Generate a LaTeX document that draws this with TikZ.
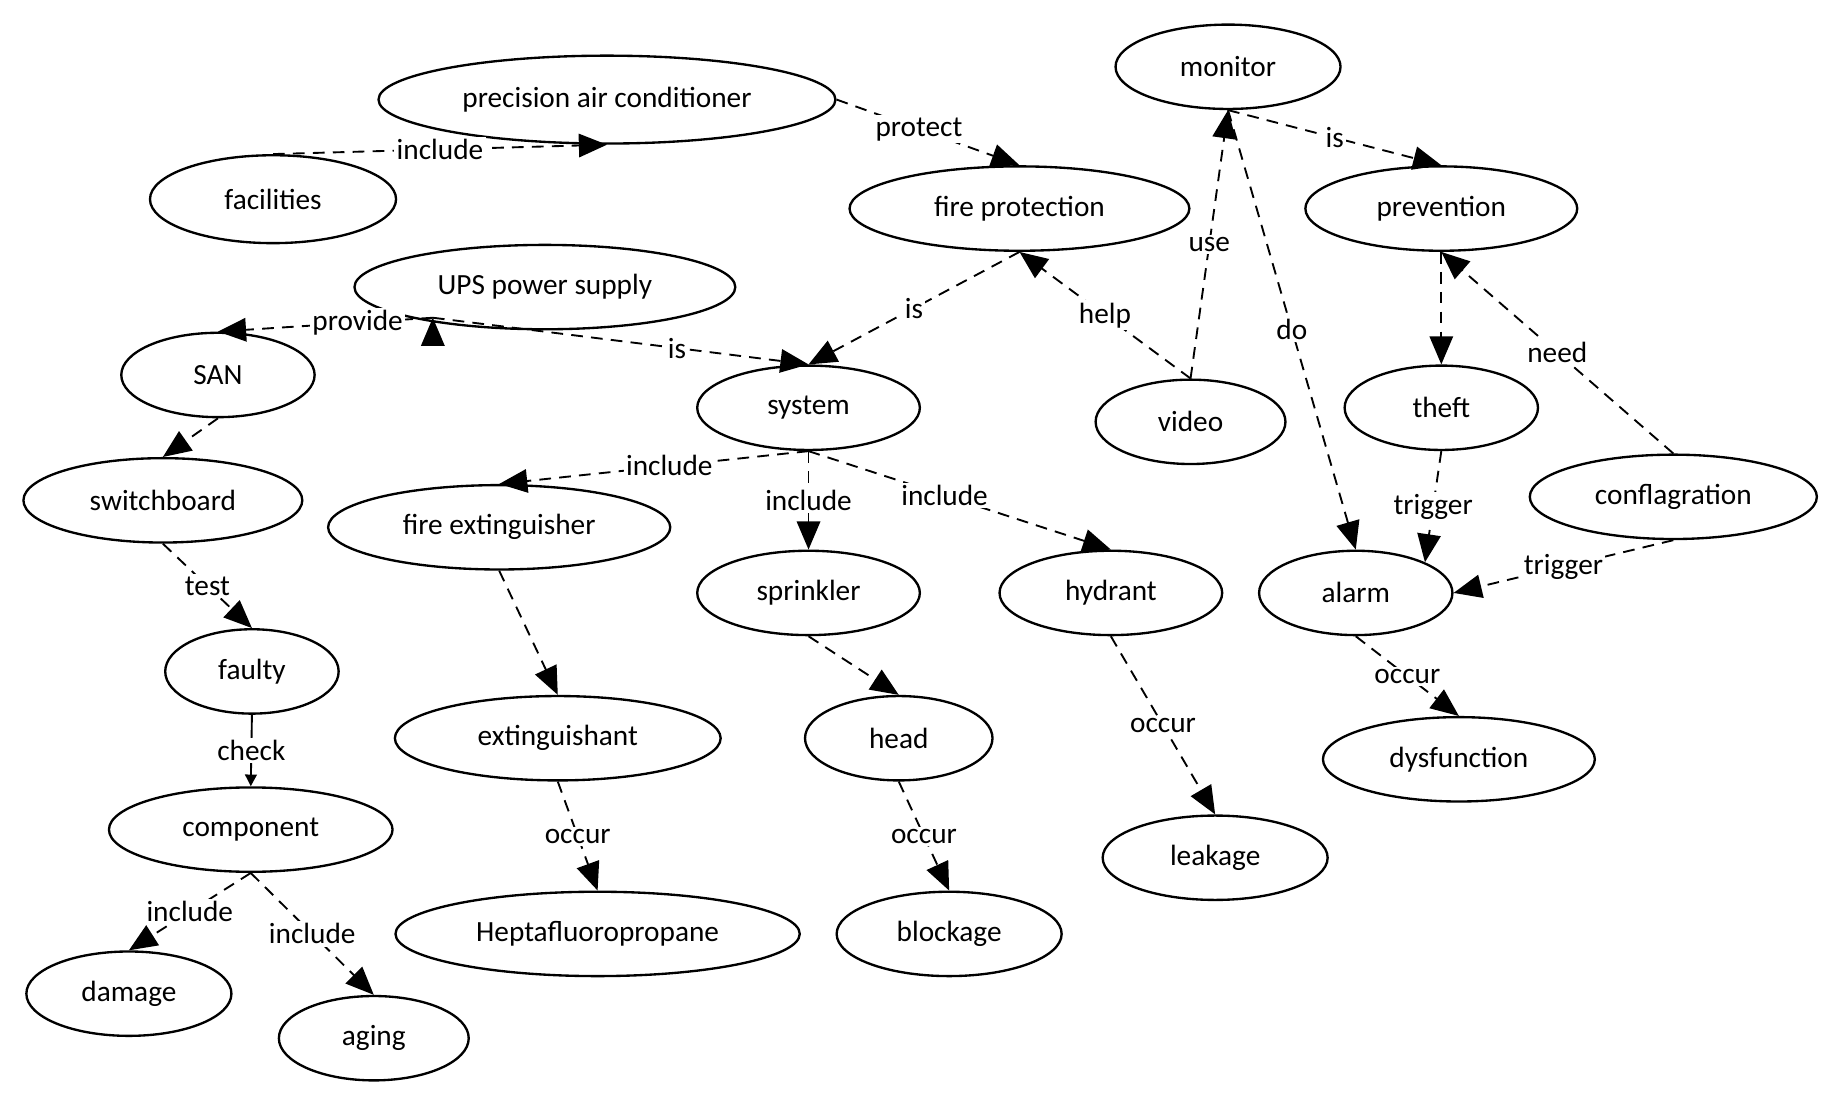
\documentclass[tikz,border=0pt]{standalone}
\usepackage{fontspec}
\setmainfont{Carlito}
\usetikzlibrary{shapes.geometric,arrows.meta}
\begin{document}
\begin{tikzpicture}[x=0.5pt,y=-0.5pt,
  n/.style={ellipse,draw,line width=1pt,inner sep=0pt,font=\fontsize{12.5}{14}\selectfont},
  e/.style={draw,line width=0.8pt,dash pattern=on 5pt off 3.5pt,-{Triangle[length=12pt,width=10pt]}},
  l/.style={fill=white,inner sep=1pt,font=\fontsize{12.5}{14}\selectfont}]
\useasboundingbox (0,0) rectangle (1560,940);
\def\N#1#2#3#4#5#6{\node[n,minimum width=#4*0.5pt,minimum height=#5*0.5pt] (#1) at (#2,#3) {#6};}
\N{pac}{518}{85}{390}{75}{precision air conditioner}
\N{fac}{233}{170}{210}{75}{facilities}
\N{mon}{1048}{57}{192}{72}{monitor}
\N{fp}{870}{178}{290}{72}{fire protection}
\N{prev}{1230}{178}{232}{72}{prevention}
\N{ups}{465}{245}{325}{72}{UPS power supply}
\N{san}{186}{320}{165}{72}{SAN}
\N{sys}{690}{348}{190}{72}{system}
\N{vid}{1016}{360}{162}{72}{video}
\N{theft}{1230}{348}{165}{72}{theft}
\N{sw}{139}{427}{238}{72}{switchboard}
\N{fe}{426}{450}{292}{72}{fire extinguisher}
\N{conf}{1428}{424}{245}{72}{conflagration}
\N{spr}{690}{506}{190}{72}{sprinkler}
\N{hyd}{948}{506}{190}{72}{hydrant}
\N{alarm}{1157}{506}{165}{72}{alarm}
\N{faulty}{215}{573}{148}{72}{faulty}
\N{ext}{476}{630}{278}{72}{extinguishant}
\N{head}{767}{630}{160}{72}{head}
\N{dys}{1245}{648}{232}{72}{dysfunction}
\N{comp}{214}{708}{242}{72}{component}
\N{leak}{1037}{732}{192}{72}{leakage}
\N{hep}{510}{797}{345}{72}{Heptafluoropropane}
\N{block}{810}{797}{192}{72}{blockage}
\N{dam}{110}{848}{175}{72}{damage}
\N{aging}{319}{886}{162}{72}{aging}

\path[e] (fac.north) -- node[l]{include} (pac.south);
\path[e] (pac.east) -- node[l,pos=0.45]{protect} (fp.north);
\path[e] (mon.south) -- node[l]{is} (prev.north);
\path[e] (fp.south) -- node[l]{is} (sys.north);
\path[e] (ups.south west) ++(20,0) coordinate (u0);
\path[e] (u0) -- node[l,pos=0.35]{provide} (san.north);
\path[e] (u0) -- node[l,pos=0.65]{is} (sys.north);
\path[e] (vid.north) -- node[l]{help} (fp.south);
\path[e] (vid.north) -- node[l]{use} (mon.south);
\path[e] (mon.south) -- node[l,pos=0.5]{do} (alarm.north);
\path[e] (prev.south) -- (theft.north);
\path[e] (conf.north) -- node[l]{need} (prev.south);
\path[e] (theft.south) -- node[l]{trigger} (alarm.north east);
\path[e] (conf.south) -- node[l]{trigger} (alarm.east);
\path[e] (alarm.south) -- node[l]{occur} (dys.north);
\path[e] (san.south) -- (sw.north);
\path[e] (sw.south) -- node[l]{test} (faulty.north);
\path[draw,line width=0.8pt,-{Triangle[length=5pt,width=5pt]}] (faulty.south) -- node[l]{check} (comp.north);
\path[e] (comp.south) -- node[l]{include} (dam.north);
\path[e] (comp.south) -- node[l]{include} (aging.north);
\path[e] (sys.south) -- node[l,pos=0.45]{include} (fe.north);
\path[e] (sys.south) -- node[l]{include} (spr.north);
\path[e] (sys.south) -- node[l,pos=0.45]{include} (hyd.north);
\path[e] (fe.south) -- (ext.north);
\path[e] (ext.south) -- node[l]{occur} (hep.north);
\path[e] (spr.south) -- (head.north);
\path[e] (head.south) -- node[l]{occur} (block.north);
\path[e] (hyd.south) -- node[l]{occur} (leak.north);
\end{tikzpicture}
\end{document}
